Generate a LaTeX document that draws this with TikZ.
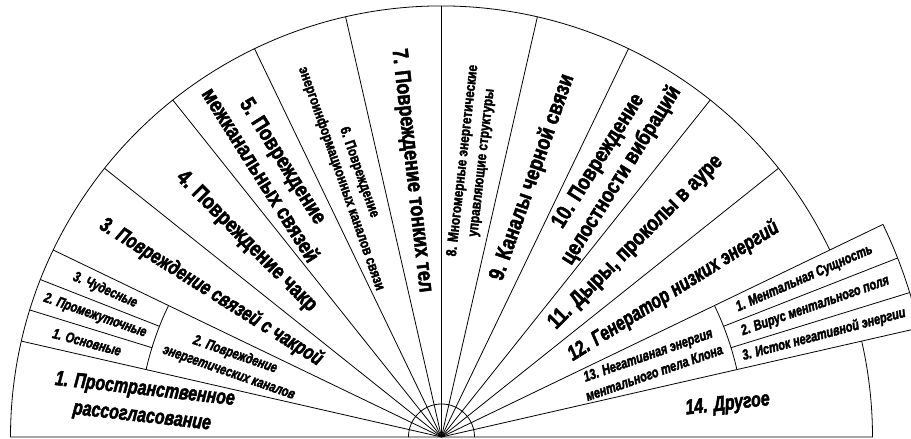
\documentclass[tikz,border=0pt]{standalone}
\usepackage{fontspec}
\newfontfamily\fanfont{Liberation Sans Bold}[FakeStretch=0.82, FakeBold=2.2]
\newfontfamily\fanfontit{Liberation Sans Bold Italic}[FakeStretch=0.76, FakeBold=2.2]
\tikzset{line/.style={draw, line width=0.8pt}}

\begin{document}
\begin{tikzpicture}[x=1pt,y=1pt]
\tikzstyle{big} = [font=\fanfont\fontsize{22}{27}\selectfont, align=center, inner sep=0pt]
\tikzstyle{bigit} = [font=\fanfontit\fontsize{21}{27}\selectfont, align=center, inner sep=0pt]
\tikzstyle{small} = [font=\fanfont\fontsize{14.5}{19}\selectfont, align=center, inner sep=0pt]
\tikzstyle{smallit} = [font=\fanfontit\fontsize{14.5}{19}\selectfont, align=center, inner sep=0pt]

% frame
    \path[use as bounding box] (-441.5,-2) rectangle (469.5,437);
    \clip (-441.5,-2) rectangle (469.5,437);
    \coordinate (O) at (0,0);
% outline
    \draw[line] (180:431) -- (0:431) arc[start angle=0, end angle=12.857, radius=431];
    \draw[line] (25.714:431) arc[start angle=25.714, end angle=180, radius=431];
    \draw[line] (0:33) arc[start angle=0, end angle=180, radius=33];
% rays
    \foreach \k in {3,...,13} \draw[line] (O) -- ({\k*180/14}:431);
    \foreach \k in {1,2} \draw[line] (O) -- ({\k*180/14}:490);
    % sector 2 boxes
    \draw[line] (154.286:303) arc[start angle=154.286, end angle=167.143, radius=303];
    \foreach \a in {158.571,162.857} \draw[line] (\a:303) -- (\a:431);
    % sector 13 boxes
    \draw[line] (12.857:303) arc[start angle=12.857, end angle=25.714, radius=303];
    \draw[line] (12.857:490) arc[start angle=12.857, end angle=25.714, radius=490];
    \foreach \a in {17.143,21.429} \draw[line] (\a:303) -- (\a:490);

% labels
    \node[bigit, rotate=-6.43] (s1) at (173.57:300) {1. Пространственное\\рассогласование};
    \node[smallit, rotate=-19.29] (s2) at (160.71:222) {2. Повреждение\\энергетических каналов};
    \node[smallit, rotate=-23.57] (s2c) at (156.43:367) {3. Чудесные};
    \node[smallit, rotate=-19.29] (s2b) at (160.71:367) {2. Промежуточные};
    \node[smallit, rotate=-15] (s2a) at (165:367) {1. Основные};
    \node[bigit, rotate=-32.14] (s3) at (147.86:272) {3. Повреждение связей с чакрой};
    \node[big, rotate=-45] (s4) at (135:276) {4. Повреждение чакр};
    \node[big, rotate=-57.86] (s5) at (122.14:318) {5. Повреждение\\межканальных связей};
    \node[small, rotate=-70.71] (s6) at (109.29:277) {6. Повреждение\\энергоинформационных каналов связи};
    \node[big, rotate=-83.57] (s7) at (96.43:268) {7. Повреждение тонких тел};
    \node[small, rotate=83.57] (s8) at (83.57:277) {8. Многомерные энергетические\\управляющие структуры};
    \node[big, rotate=70.71] (s9) at (70.71:275) {9. Каналы черной связи};
    \node[big, rotate=57.86] (s10) at (57.86:317) {10. Повреждение\\целостности вибраций};
    \node[big, rotate=45] (s11) at (45:275) {11. Дыры, проколы в ауре};
    \node[bigit, rotate=32.14] (s12) at (32.14:274) {12. Генератор низких энергий};
    \node[smallit, rotate=19.29] (s13) at (19.29:222) {13. Негативная энергия\\ментального тела Клона};
    \node[smallit, rotate=23.57] (s13a) at (23.57:396) {1. Ментальная Сущность};
    \node[smallit, rotate=19.29] (s13b) at (19.29:396) {2. Вирус ментального поля};
    \node[smallit, rotate=15] (s13c) at (15:396) {3. Исток негативной энергии};
    \node[bigit, rotate=6.43] (s14) at (6.43:288) {14. Другое};
\end{tikzpicture}
\end{document}
